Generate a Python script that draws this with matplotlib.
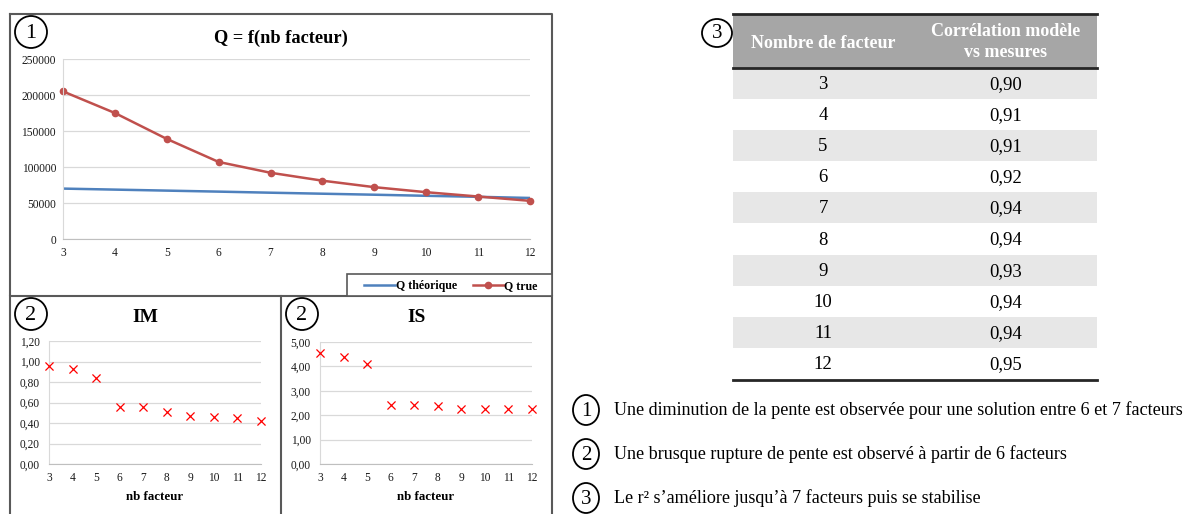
import matplotlib
matplotlib.use("Agg")
import matplotlib.pyplot as plt
from matplotlib.patches import Rectangle, Ellipse
from matplotlib.ticker import FuncFormatter

plt.rcParams['font.family'] = ['Liberation Serif', 'DejaVu Serif']

# ---------------- data ----------------
nb_facteur = [3, 4, 5, 6, 7, 8, 9, 10, 11, 12]
q_theorique = [70000, 68600, 67200, 65800, 64300, 62900, 61500, 60000, 58600, 57000]
q_true = [205000, 175000, 139000, 107000, 92000, 81000, 72000, 65000, 59000, 53000]
im_values = [0.96, 0.93, 0.84, 0.56, 0.56, 0.51, 0.47, 0.46, 0.45, 0.42]
is_values = [4.55, 4.38, 4.10, 2.42, 2.42, 2.38, 2.26, 2.26, 2.26, 2.26]
table_facteurs = ['3', '4', '5', '6', '7', '8', '9', '10', '11', '12']
table_correlation = ['0,90', '0,91', '0,91', '0,92', '0,94', '0,94', '0,93', '0,94', '0,94', '0,95']
table_headers = ['Nombre de facteur', 'Corrélation modèle\nvs mesures']
notes = ['Une diminution de la pente est observée pour une solution entre 6 et 7 facteurs',
         'Une brusque rupture de pente est observé à partir de 6 facteurs',
         'Le r\u00b2 s\u2019améliore jusqu\u2019à 7 facteurs puis se stabilise']

W, H = 1189, 514
fig = plt.figure(figsize=(W / 100, H / 100), dpi=100)
fig.patch.set_facecolor('white')

# overlay axis in pixel coordinates
ov = fig.add_axes([0, 0, 1, 1], zorder=0)
ov.set_xlim(0, W)
ov.set_ylim(H, 0)
ov.axis('off')


def px_axes(x0, y0, x1, y1):
    return fig.add_axes([x0 / W, 1 - y1 / H, (x1 - x0) / W, (y1 - y0) / H], zorder=2)


def circle_num(cx, cy, txt, rx=16, ry=16, fs=16):
    ov.add_patch(Ellipse((cx, cy), 2 * rx, 2 * ry, fill=False, edgecolor='black', lw=1.3))
    ov.text(cx, cy + 1, txt, ha='center', va='center', fontsize=fs, color='black')


# chart boxes
box_col = '#595959'
ov.plot([10, 552, 552, 10, 10], [14, 14, 296, 296, 14], color=box_col, lw=1.5)
ov.plot([10, 10], [296, 514], color=box_col, lw=1.5)
ov.plot([281, 281], [296, 514], color=box_col, lw=1.5)
ov.plot([552, 552], [296, 514], color=box_col, lw=1.5)

grid_col = '#D9D9D9'


def style_axes(ax, ypad):
    for s in ['top', 'right']:
        ax.spines[s].set_visible(False)
    ax.spines['left'].set_color(grid_col)
    ax.spines['bottom'].set_color('#BFBFBF')
    ax.tick_params(length=0, labelsize=8.3, colors='#1a1a1a')
    ax.tick_params(axis='x', pad=6)
    ax.tick_params(axis='y', pad=ypad)
    ax.yaxis.grid(True, color=grid_col, lw=0.9)
    ax.set_axisbelow(True)
    ax.patch.set_alpha(0)
    ax.set_xticks(nb_facteur)


# ---- chart 1 ----
ax1 = px_axes(63, 59, 530, 239)
ax1.plot(nb_facteur, q_theorique, color='#4F81BD', lw=1.8, label='Q théorique')
ax1.plot(nb_facteur, q_true, color='#C0504D', lw=1.8, marker='o', ms=4.5, label='Q true', clip_on=False)
ax1.set_xlim(3, 12)
ax1.set_ylim(0, 250000)
ax1.set_yticks(range(0, 250001, 50000))
style_axes(ax1, 5)
ov.text(281, 38, 'Q = f(nb facteur)', ha='center', va='center', fontsize=13.2, fontweight='bold')
circle_num(31, 32, '1')

# legend box
ov.add_patch(Rectangle((347, 274), 205, 22, fill=True, facecolor='white', edgecolor=box_col, lw=1.2, zorder=3))
leg = fig.legend(handles=ax1.get_lines(), loc='center', bbox_to_anchor=(451 / W, 1 - 286 / H),
                 ncol=2, frameon=False, prop={'size': 8.6, 'weight': 'bold'},
                 handlelength=2.6, handletextpad=0.05, columnspacing=1.3, borderpad=0)

# ---- chart 2: IM ----
fmt = FuncFormatter(lambda v, p: f'{v:.2f}'.replace('.', ','))
ax2 = px_axes(49, 341, 261, 464)
ax2.scatter(nb_facteur, im_values, marker='x', color='#FF0000', s=34, lw=0.9, zorder=3, clip_on=False)
ax2.set_xlim(3, 12)
ax2.set_ylim(0, 1.2)
ax2.set_yticks([0, 0.2, 0.4, 0.6, 0.8, 1.0, 1.2])
ax2.yaxis.set_major_formatter(fmt)
style_axes(ax2, 6.5)
ax2.set_xlabel('nb facteur', fontsize=9.3, fontweight='bold', labelpad=5)
ov.text(145, 318, 'IM', ha='center', va='center', fontsize=14, fontweight='bold')
circle_num(31, 314, '2')

# ---- chart 3: IS ----
ax3 = px_axes(320, 342, 532, 464)
ax3.scatter(nb_facteur, is_values, marker='x', color='#FF0000', s=34, lw=0.9, zorder=3, clip_on=False)
ax3.set_xlim(3, 12)
ax3.set_ylim(0, 5)
ax3.set_yticks([0, 1, 2, 3, 4, 5])
ax3.yaxis.set_major_formatter(fmt)
style_axes(ax3, 6.5)
ax3.set_xlabel('nb facteur', fontsize=9.3, fontweight='bold', labelpad=5)
ov.text(417, 318, 'IS', ha='center', va='center', fontsize=14, fontweight='bold')
circle_num(302, 314, '2')

# ---- table ----
tx0, tx1 = 733, 1097
c1, c2 = 823, 1006
hy0, hy1 = 15, 68
rh = 31.1
ov.add_patch(Rectangle((tx0, hy0), tx1 - tx0, hy1 - hy0, facecolor='#A6A6A6', edgecolor='none'))
ov.text(c1, 43, table_headers[0], ha='center', va='center', fontsize=13, fontweight='bold', color='white')
ov.text(c2, 42, table_headers[1], ha='center', va='center', fontsize=13, fontweight='bold', color='white',
        linespacing=1.28)
for i, (f, c) in enumerate(zip(table_facteurs, table_correlation)):
    y0 = hy1 + i * rh
    if i % 2 == 0:
        ov.add_patch(Rectangle((tx0, y0), tx1 - tx0, rh, facecolor='#E7E7E7', edgecolor='none'))
    ov.text(c1, y0 + rh / 2 + 1, f, ha='center', va='center', fontsize=13.5)
    ov.text(c2, y0 + rh / 2 + 1, c, ha='center', va='center', fontsize=13.5)
ybot = hy1 + len(table_facteurs) * rh
ov.plot([tx0, tx1], [14, 14], color='#262626', lw=2)
ov.plot([tx0, tx1], [hy1, hy1], color='#262626', lw=2)
ov.plot([tx0, tx1], [ybot + 1, ybot + 1], color='#262626', lw=2)
circle_num(717, 33, '3', rx=15, ry=14, fs=15)

# ---- notes ----
for i, (n, y) in enumerate(zip(notes, [410, 454, 498])):
    circle_num(586, y, str(i + 1), rx=13, ry=15, fs=15)
    ov.text(614, y, n, ha='left', va='center', fontsize=13.1)

fig.savefig('out.png', dpi=100, facecolor='white')
